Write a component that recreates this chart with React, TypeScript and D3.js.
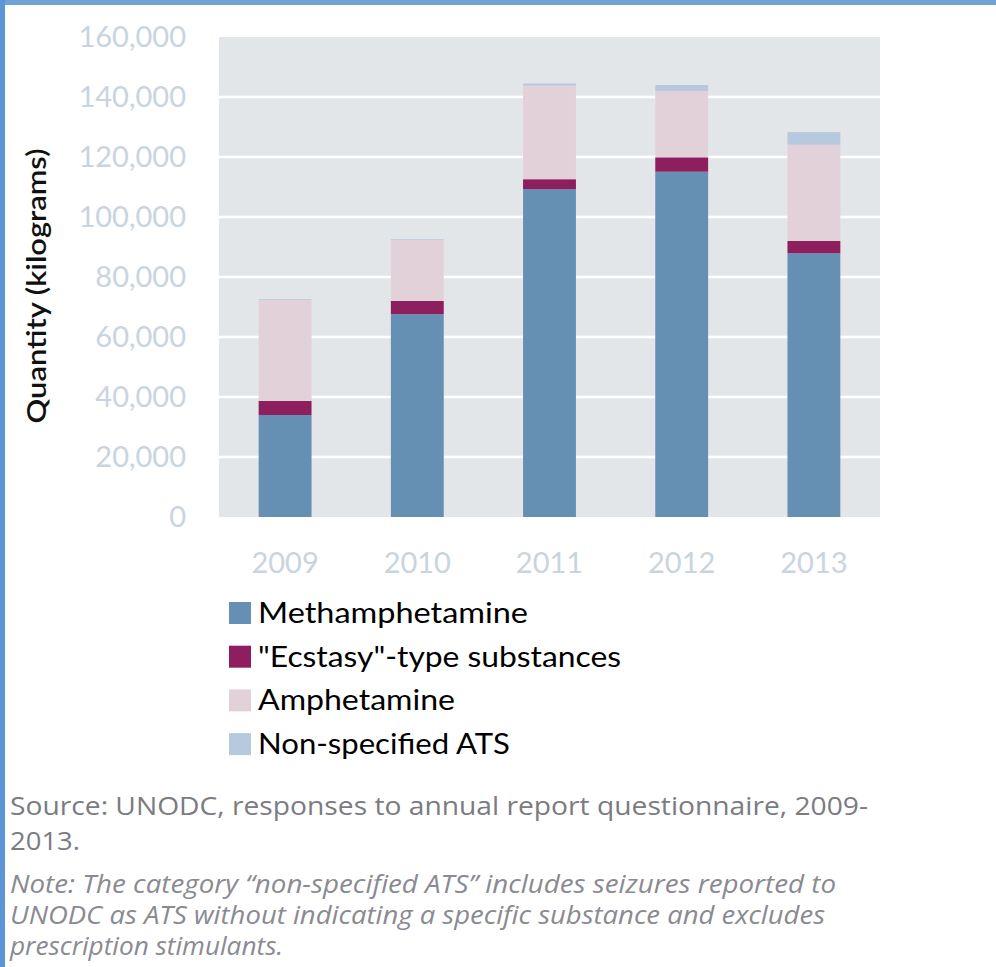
import React from "react";
import * as d3 from "d3";

const years = ["2009", "2010", "2011", "2012", "2013"];
const methamphetamine = [34000, 67600, 109300, 115100, 87900];
const ecstasy = [4700, 4400, 3300, 4800, 4100];
const amphetamine = [33600, 20300, 31200, 22100, 32100];
const nonSpecified = [300, 300, 700, 2000, 4200];
const seriesNames = ["Methamphetamine", "\"Ecstasy\"-type substances", "Amphetamine", "Non-specified ATS"];
const seriesColors = ["#6590b3", "#8e1f5e", "#e2d1d8", "#b7c9de"];
const yTicks = [0, 20000, 40000, 60000, 80000, 100000, 120000, 140000, 160000];
const sourceLines = ["Source: UNODC, responses to annual report questionnaire, 2009-", "2013."];
const noteLines = [
  "Note: The category \u201cnon-specified ATS\u201d includes seizures reported to",
  "UNODC as ATS without indicating a specific substance and excludes",
  "prescription stimulants.",
];

const W = 996;
const H = 967;
const left = 219;
const right = 880;
const top = 37;
const bottom = 517;

export default function App() {
  const x = d3.scaleBand<string>().domain(years).range([left, right]).paddingInner(0.6).paddingOuter(0.3);
  const y = d3.scaleLinear().domain([0, 160000]).range([bottom, top]);
  const rows = years.map((yr, i) => ({
    year: yr,
    s0: methamphetamine[i],
    s1: ecstasy[i],
    s2: amphetamine[i],
    s3: nonSpecified[i],
  }));
  const stack = d3.stack<any>().keys(["s0", "s1", "s2", "s3"])(rows);
  const fmt = d3.format(",");
  const tickFont = "Lato, 'Open Sans', sans-serif";
  const legendLens = [270, 363, 197, 252];
  const sourceLens = [858, 70];
  const noteLens = [826, 815, 273];

  return (
    <div style={{ position: "absolute", left: 0, top: 0 }}>
      <svg width={W} height={H} style={{ display: "block", background: "#fff" }}>
        <rect x={0} y={0} width={W} height={5} fill="#6fa3d5" />
        <rect x={0} y={0} width={5} height={H} fill="#5b95d5" />
        <rect x={left} y={top} width={right - left} height={bottom - top} fill="#e3e6e9" />
        {yTicks.map((t) => (
          <g key={t}>
            {t > 0 && t < 160000 && (
              <line x1={left} x2={right} y1={y(t)} y2={y(t)} stroke="#ffffff" strokeWidth={2.5} />
            )}
            <text x={186} y={y(t) + 10} textAnchor="end" fontFamily={tickFont} fontSize={29} fill="#c8d4e0">
              {fmt(t)}
            </text>
          </g>
        ))}
        {stack.map((layer, si) => (
          <g key={si} fill={seriesColors[si]}>
            {layer.map((d: any, i: number) => (
              <rect
                key={i}
                x={x(years[i])}
                width={x.bandwidth()}
                y={y(d[1])}
                height={Math.max(0, y(d[0]) - y(d[1]))}
              />
            ))}
          </g>
        ))}
        {years.map((yr) => (
          <text
            key={yr}
            x={(x(yr) as number) + x.bandwidth() / 2}
            y={573}
            textAnchor="middle"
            fontFamily={tickFont}
            fontSize={29}
            fill="#c8d4e0"
          >
            {yr}
          </text>
        ))}
        <text
          transform={`translate(46, ${286}) rotate(-90)`}
          textAnchor="middle"
          fontFamily={tickFont}
          fontWeight={600}
          fontSize={27}
          fill="#111"
          textLength={275}
          lengthAdjust="spacingAndGlyphs"
        >
          Quantity (kilograms)
        </text>
        {seriesNames.map((name, i) => (
          <g key={name} transform={`translate(229, ${602 + i * 43.7})`}>
            <rect x={0} y={0} width={22} height={22} fill={seriesColors[i]} />
            <text
              x={29}
              y={21}
              fontFamily={tickFont}
              fontSize={29}
              fill="#000"
              textLength={legendLens[i]}
              lengthAdjust="spacingAndGlyphs"
            >
              {name}
            </text>
          </g>
        ))}
        {sourceLines.map((s, i) => (
          <text
            key={s}
            x={10}
            y={815 + i * 35}
            fontFamily="'Open Sans', sans-serif"
            fontSize={26}
            fill="#7b7b82"
            textLength={sourceLens[i]}
            lengthAdjust="spacingAndGlyphs"
          >
            {s}
          </text>
        ))}
        {noteLines.map((s, i) => (
          <text
            key={s}
            x={10}
            y={893 + i * 31}
            fontFamily="'Open Sans', sans-serif"
            fontStyle="italic"
            fontSize={25}
            fill="#8a8a92"
            textLength={noteLens[i]}
            lengthAdjust="spacingAndGlyphs"
          >
            {s}
          </text>
        ))}
      </svg>
    </div>
  );
}
